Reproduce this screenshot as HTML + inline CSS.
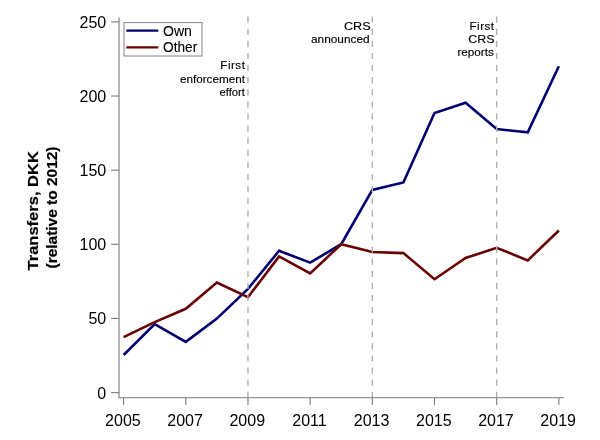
<!DOCTYPE html>
<html><head><meta charset="utf-8"><style>
html,body{margin:0;padding:0;background:#fff;}
body{width:600px;height:440px;overflow:hidden;}
svg{display:block;will-change:transform;}
text{font-family:"Liberation Sans",sans-serif;}
.tk{font-size:16px;fill:#000;}
.lg{font-size:14.4px;fill:#000;stroke:#000;stroke-width:0.1px;}
.an{font-size:11.6px;fill:#000;stroke:#000;stroke-width:0.15px;}
.tt{font-size:15.2px;font-weight:bold;fill:#000;stroke:#000;stroke-width:0.2px;}
</style></head><body>
<svg width="600" height="440" viewBox="0 0 600 440">
<line x1="119.05" y1="17.5" x2="119.05" y2="397.8" stroke="#969696" stroke-width="1.4"/>
<line x1="118.4" y1="397.6" x2="564" y2="397.6" stroke="#969696" stroke-width="1.4"/>
<line x1="111.1" y1="392.60" x2="119" y2="392.60" stroke="#7a7a7a" stroke-width="1.1"/>
<text x="106.2" y="398.60" text-anchor="end" class="tk">0</text>
<line x1="111.1" y1="318.46" x2="119" y2="318.46" stroke="#7a7a7a" stroke-width="1.1"/>
<text x="106.2" y="324.46" text-anchor="end" class="tk">50</text>
<line x1="111.1" y1="244.32" x2="119" y2="244.32" stroke="#7a7a7a" stroke-width="1.1"/>
<text x="106.2" y="250.32" text-anchor="end" class="tk">100</text>
<line x1="111.1" y1="170.18" x2="119" y2="170.18" stroke="#7a7a7a" stroke-width="1.1"/>
<text x="106.2" y="176.18" text-anchor="end" class="tk">150</text>
<line x1="111.1" y1="96.04" x2="119" y2="96.04" stroke="#7a7a7a" stroke-width="1.1"/>
<text x="106.2" y="102.04" text-anchor="end" class="tk">200</text>
<line x1="111.1" y1="21.90" x2="119" y2="21.90" stroke="#7a7a7a" stroke-width="1.1"/>
<text x="106.2" y="27.90" text-anchor="end" class="tk">250</text>
<line x1="123.60" y1="397.8" x2="123.60" y2="404.9" stroke="#7a7a7a" stroke-width="1.1"/>
<text x="122.90" y="425.5" text-anchor="middle" class="tk">2005</text>
<line x1="185.78" y1="397.8" x2="185.78" y2="404.9" stroke="#7a7a7a" stroke-width="1.1"/>
<text x="185.08" y="425.5" text-anchor="middle" class="tk">2007</text>
<line x1="247.96" y1="397.8" x2="247.96" y2="404.9" stroke="#7a7a7a" stroke-width="1.1"/>
<text x="247.26" y="425.5" text-anchor="middle" class="tk">2009</text>
<line x1="310.14" y1="397.8" x2="310.14" y2="404.9" stroke="#7a7a7a" stroke-width="1.1"/>
<text x="309.44" y="425.5" text-anchor="middle" class="tk">2011</text>
<line x1="372.32" y1="397.8" x2="372.32" y2="404.9" stroke="#7a7a7a" stroke-width="1.1"/>
<text x="371.62" y="425.5" text-anchor="middle" class="tk">2013</text>
<line x1="434.50" y1="397.8" x2="434.50" y2="404.9" stroke="#7a7a7a" stroke-width="1.1"/>
<text x="433.80" y="425.5" text-anchor="middle" class="tk">2015</text>
<line x1="496.68" y1="397.8" x2="496.68" y2="404.9" stroke="#7a7a7a" stroke-width="1.1"/>
<text x="495.98" y="425.5" text-anchor="middle" class="tk">2017</text>
<line x1="558.86" y1="397.8" x2="558.86" y2="404.9" stroke="#7a7a7a" stroke-width="1.1"/>
<text x="558.16" y="425.5" text-anchor="middle" class="tk">2019</text>
<polyline points="123.60,355.00 154.69,324.00 185.78,341.90 216.87,318.60 247.96,288.90 279.05,250.80 310.14,262.60 341.23,244.20 372.32,189.90 403.41,182.50 434.50,113.00 465.59,102.70 496.68,129.00 527.77,132.40 558.86,66.20" fill="none" stroke="#000070" stroke-width="2.6" stroke-linejoin="miter"/>
<polyline points="123.60,337.20 154.69,322.10 185.78,308.80 216.87,282.50 247.96,297.20 279.05,256.40 310.14,273.40 341.23,244.20 372.32,252.00 403.41,253.10 434.50,279.20 465.59,258.00 496.68,247.80 527.77,260.40 558.86,230.50" fill="none" stroke="#680000" stroke-width="2.6" stroke-linejoin="miter"/>
<line x1="247.96" y1="16.6" x2="247.96" y2="397" stroke="#b0b0b0" stroke-width="1.4" stroke-dasharray="6.2 5.9"/>
<line x1="372.32" y1="16.6" x2="372.32" y2="397" stroke="#b0b0b0" stroke-width="1.4" stroke-dasharray="6.2 5.9"/>
<line x1="496.68" y1="16.6" x2="496.68" y2="397" stroke="#b0b0b0" stroke-width="1.4" stroke-dasharray="6.2 5.9"/>
<rect x="124.0" y="22.6" width="78.0" height="33.4" fill="#fff" stroke="#858585" stroke-width="1"/>
<line x1="126.3" y1="30.7" x2="158.3" y2="30.7" stroke="#000070" stroke-width="2.2"/>
<line x1="126.3" y1="47.4" x2="158.3" y2="47.4" stroke="#680000" stroke-width="2.2"/>
<text x="163" y="35.5" class="lg" textLength="28.9" lengthAdjust="spacingAndGlyphs">Own</text>
<text x="163" y="52.1" class="lg" textLength="34.2" lengthAdjust="spacingAndGlyphs">Other</text>
<text x="244.9" y="69.20" text-anchor="end" class="an" textLength="24.6" lengthAdjust="spacing">First</text>
<text x="244.9" y="82.65" text-anchor="end" class="an" textLength="65.0" lengthAdjust="spacingAndGlyphs">enforcement</text>
<text x="244.9" y="96.10" text-anchor="end" class="an" textLength="25.3" lengthAdjust="spacingAndGlyphs">effort</text>
<text x="370.6" y="30.00" text-anchor="end" class="an" textLength="26.6" lengthAdjust="spacingAndGlyphs">CRS</text>
<text x="369.6" y="43.45" text-anchor="end" class="an" textLength="58.6" lengthAdjust="spacingAndGlyphs">announced</text>
<text x="494.1" y="29.50" text-anchor="end" class="an" textLength="24.6" lengthAdjust="spacing">First</text>
<text x="494.5" y="42.95" text-anchor="end" class="an" textLength="26.2" lengthAdjust="spacingAndGlyphs">CRS</text>
<text x="493.8" y="56.40" text-anchor="end" class="an" textLength="36.4" lengthAdjust="spacingAndGlyphs">reports</text>
<text transform="translate(38.1,210.8) rotate(-90)" text-anchor="middle" class="tt" textLength="119.3" lengthAdjust="spacingAndGlyphs">Transfers, DKK</text>
<text transform="translate(56.7,207.5) rotate(-90)" text-anchor="middle" class="tt" textLength="121.9" lengthAdjust="spacingAndGlyphs">(relative to 2012)</text>
</svg>
</body></html>
